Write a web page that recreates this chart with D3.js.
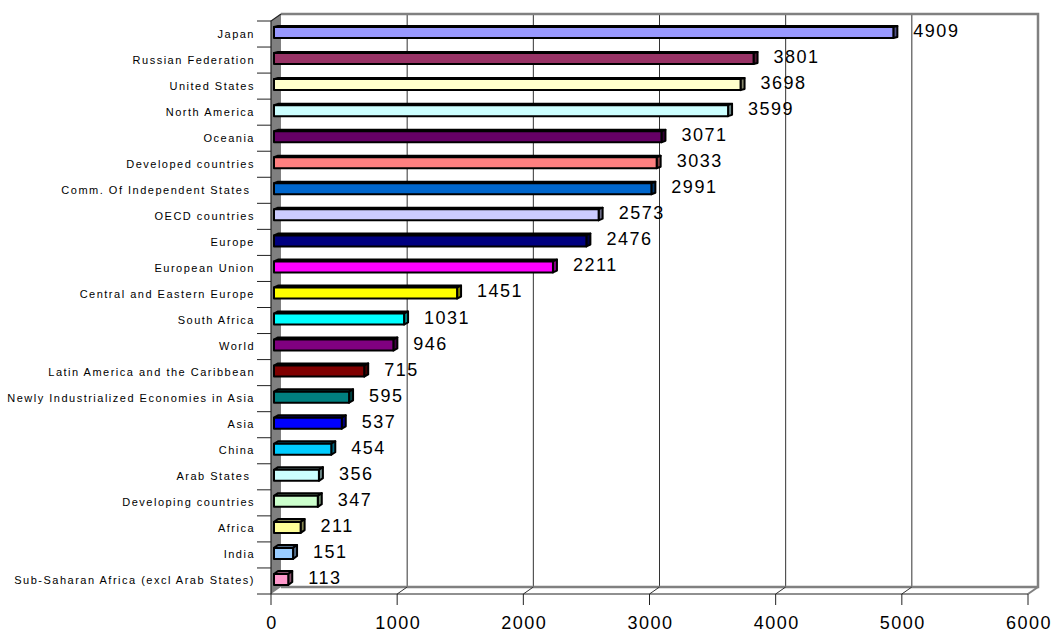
<!DOCTYPE html>
<html lang="en">
<head>
<meta charset="UTF-8">
<title>Bar chart</title>
<script src="https://d3js.org/d3.v7.min.js"></script>
<style>
  body { margin: 0; background: #fff; }
  svg { display: block; }
</style>
</head>
<body>
<svg id="chart" width="1057" height="635"></svg>
<script>
// data
const categories = [
  "Japan", "Russian Federation", "United States", "North America", "Oceania",
  "Developed countries", "Comm. Of Independent States ", "OECD countries", "Europe",
  "European Union", "Central and Eastern Europe", "South Africa", "World",
  "Latin America and the Caribbean", "Newly Industrialized Economies in Asia", "Asia",
  "China", "Arab States ", "Developing countries", "Africa", "India",
  "Sub-Saharan Africa (excl Arab States)"
];
const values = [4909, 3801, 3698, 3599, 3071, 3033, 2991, 2573, 2476, 2211, 1451,
  1031, 946, 715, 595, 537, 454, 356, 347, 211, 151, 113];
const barColors = ["#9999FF", "#993366", "#FFFFCC", "#CCFFFF", "#660066", "#FF8080",
  "#0066CC", "#CCCCFF", "#000080", "#FF00FF", "#FFFF00", "#00FFFF", "#800080",
  "#800000", "#008080", "#0000FF", "#00CCFF", "#CCFFFF", "#CCFFCC", "#FFFF99",
  "#99CCFF", "#FF99CC"];
const xTicks = [0, 1000, 2000, 3000, 4000, 5000, 6000];

const svg = d3.select("#chart");
const font = "'Liberation Sans', Arial, sans-serif";

const plotTop = 21, plotBottom = 594;
const x = d3.scaleLinear().domain([0, 6000]).range([271, 1028]);
const y = d3.scaleBand().domain(categories).range([plotTop, plotBottom]);
const DX = 10, DY = -7;           // depth of the 3D box

// back wall
svg.append("rect")
  .attr("x", x(0) + DX).attr("y", plotTop + DY)
  .attr("width", x(6000) - x(0)).attr("height", plotBottom - plotTop)
  .attr("fill", "#fff");

svg.append("g").selectAll("line")
  .data(xTicks.slice(1, -1))
  .join("line")
  .attr("x1", d => x(d) + DX).attr("x2", d => x(d) + DX)
  .attr("y1", plotTop + DY).attr("y2", plotBottom + DY)
  .attr("stroke", "#333").attr("stroke-width", 1);

// back wall border (top + right) and floor back edge
svg.append("path")
  .attr("d", `M${x(0) + DX},${plotTop + DY}H${x(6000) + DX}V${plotBottom + DY}H${x(0) + DX}`)
  .attr("fill", "none").attr("stroke", "#808080").attr("stroke-width", 2.5);

// floor
svg.append("path")
  .attr("d", `M${x(6000)},${plotBottom}L${x(6000) + DX},${plotBottom + DY}`)
  .attr("stroke", "#808080").attr("stroke-width", 2).attr("fill", "none");
svg.append("g").selectAll("line")
  .data(xTicks.slice(1, -1))
  .join("line")
  .attr("x1", d => x(d)).attr("x2", d => x(d) + DX)
  .attr("y1", plotBottom).attr("y2", plotBottom + DY)
  .attr("stroke", "#333").attr("stroke-width", 1);

// left side wall
svg.append("path")
  .attr("d", `M${x(0)},${plotTop}L${x(0) + DX},${plotTop + DY}L${x(0) + DX},${plotBottom + DY}L${x(0)},${plotBottom}Z`)
  .attr("fill", "#808080").attr("stroke", "none");
svg.append("path")
  .attr("d", `M${x(0)},${plotBottom}V${plotTop}L${x(0) + DX},${plotTop + DY}`)
  .attr("fill", "none").attr("stroke", "#222").attr("stroke-width", 1.2);

// category ticks
const bounds = categories.map(c => y(c)).concat([plotBottom]);
svg.append("g").selectAll("line")
  .data(bounds)
  .join("line")
  .attr("x1", 257).attr("x2", x(0))
  .attr("y1", d => d).attr("y2", d => d)
  .attr("stroke", "#222").attr("stroke-width", 1);

// category labels
svg.append("g").selectAll("text")
  .data(categories)
  .join("text")
  .attr("x", 255)
  .attr("y", d => y(d) + y.bandwidth() / 2 + 3.5)
  .attr("text-anchor", "end")
  .attr("xml:space", "preserve")
  .style("white-space", "pre")
  .attr("font-family", font).attr("font-size", 11)
  .attr("letter-spacing", 1.5)
  .attr("fill", "#000")
  .text(d => d);

// front x axis
svg.append("line")
  .attr("x1", x(0)).attr("x2", x(6000))
  .attr("y1", plotBottom).attr("y2", plotBottom)
  .attr("stroke", "#222").attr("stroke-width", 1.2);
svg.append("g").selectAll("line")
  .data(xTicks)
  .join("line")
  .attr("x1", d => x(d)).attr("x2", d => x(d))
  .attr("y1", plotBottom).attr("y2", plotBottom + 11)
  .attr("stroke", "#222").attr("stroke-width", 1);
svg.append("g").selectAll("text")
  .data(xTicks)
  .join("text")
  .attr("x", d => x(d) + 1)
  .attr("y", 629)
  .attr("text-anchor", "middle")
  .attr("font-family", font).attr("font-size", 18)
  .attr("letter-spacing", 1.5)
  .attr("fill", "#000")
  .text(d => d);

// bars
const bars = svg.append("g");
values.forEach((v, i) => {
  const c = y(categories[i]) + y.bandwidth() / 2;
  const x0 = x(0) + 3, x1 = x(v) + 3;
  const y0 = c - 7, y1 = c + 4;
  const ddx = 4, ddy = 1 + 2 * i / (values.length - 1);
  const dark = d3.color(barColors[i]).darker(1.8).formatHex();
  const g = bars.append("g")
    .attr("stroke", "#000").attr("stroke-width", 2).attr("stroke-linejoin", "round");
  g.append("path")
    .attr("d", `M${x0},${y0}L${x0 + ddx},${y0 - ddy}L${x1 + ddx},${y0 - ddy}L${x1},${y0}Z`)
    .attr("fill", dark);
  g.append("path")
    .attr("d", `M${x1},${y0}L${x1 + ddx},${y0 - ddy}L${x1 + ddx},${y1 - ddy}L${x1},${y1}Z`)
    .attr("fill", dark);
  g.append("rect")
    .attr("x", x0).attr("y", y0)
    .attr("width", x1 - x0).attr("height", y1 - y0)
    .attr("fill", barColors[i]);
});

// value labels
svg.append("g").selectAll("text")
  .data(values)
  .join("text")
  .attr("x", d => x(d) + 3 + 4 + 16)
  .attr("y", (d, i) => y(categories[i]) + y.bandwidth() / 2 + 3)
  .attr("font-family", font).attr("font-size", 18)
  .attr("letter-spacing", 1.5)
  .attr("fill", "#000")
  .text(d => d);
</script>
</body>
</html>
